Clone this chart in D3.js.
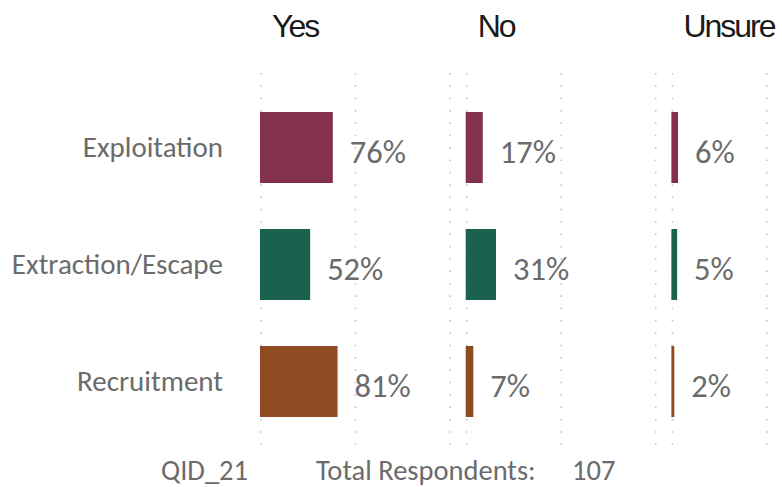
<!DOCTYPE html>
<html><head><meta charset="utf-8">
<script src="https://cdn.jsdelivr.net/npm/d3@7"></script>
<style>
html,body{margin:0;padding:0;background:#fff;}
svg{display:block;}
</style></head>
<body>
<svg id="chart" width="782" height="487"></svg>
<script>
const categories = ["Exploitation", "Extraction/Escape", "Recruitment"];
const responses = ["Yes", "No", "Unsure"];
const yesValues = [0.76, 0.52, 0.81];
const noValues = [0.17, 0.31, 0.07];
const unsureValues = [0.06, 0.05, 0.02];
const gridTicks = [0, 1, 2];
const categoryColors = ["#84314B", "#1B614F", "#904B22"];
const footerQid = "QID_21";
const footerLabel = "Total Respondents:";
const footerTotal = "107";

const seriesValues = [yesValues, noValues, unsureValues];

const svg = d3.select("#chart");
const labelFont = "Carlito, Calibri, 'Noto Sans', sans-serif";

const panelX = d3.scaleBand().domain(responses).range([261, 261 + 3 * 205.7]).padding(0);
const x = d3.scaleLinear().domain([0, 2]).range([0, 189]);
const y = d3.scaleBand().domain(categories).range([89, 440]).paddingInner(0.393).paddingOuter(0.1965);
const color = d3.scaleOrdinal().domain(categories).range(categoryColors);

// category labels
svg.append("g").selectAll("text").data(categories).join("text")
  .attr("x", 223)
  .attr("y", d => y(d) + y.bandwidth() / 2 + 9)
  .attr("text-anchor", "end")
  .attr("font-family", labelFont)
  .attr("font-size", 29)
  .attr("fill", "#6b6b6b")
  .text(d => d);

responses.forEach((resp, i) => {
  const g = svg.append("g").attr("transform", `translate(${panelX(resp)},0)`);
  // grid lines
  g.append("g").selectAll("line").data(gridTicks).join("line")
    .attr("x1", d => x(d)).attr("x2", d => x(d))
    .attr("y1", 73).attr("y2", 445)
    .attr("stroke", "#c4c4c4")
    .attr("stroke-width", 1.6)
    .attr("stroke-dasharray", "1.6,10.75");
  // title
  g.append("text")
    .attr("x", 11).attr("y", 36.5)
    .attr("font-family", "'Liberation Sans', Arial, sans-serif")
    .attr("font-size", 32)
    .attr("letter-spacing", -2)
    .attr("fill", "#1a1a1a")
    .text(resp);
  const data = categories.map((c, j) => ({cat: c, v: seriesValues[i][j]}));
  g.append("g").selectAll("rect").data(data).join("rect")
    .attr("x", x(0) - 1)
    .attr("y", d => y(d.cat))
    .attr("width", d => x(d.v) - x(0) + 1)
    .attr("height", y.bandwidth())
    .attr("fill", d => color(d.cat));
  g.append("g").selectAll("text").data(data).join("text")
    .attr("x", d => x(d.v) + 17)
    .attr("y", d => y(d.cat) + y.bandwidth() / 2 + 15)
    .attr("font-family", labelFont)
    .attr("font-size", 32.5)
    .attr("fill", "#6b6b6b")
    .text(d => d3.format(".0%")(d.v));
});

// footer
const footer = svg.append("g").attr("font-family", labelFont).attr("font-size", 28.5).attr("fill", "#6b6b6b");
footer.append("text").attr("x", 161).attr("y", 479.5).text(footerQid);
footer.append("text").attr("x", 316).attr("y", 479.5).text(footerLabel);
footer.append("text").attr("x", 572).attr("y", 479.5).text(footerTotal);
</script>
</body></html>
